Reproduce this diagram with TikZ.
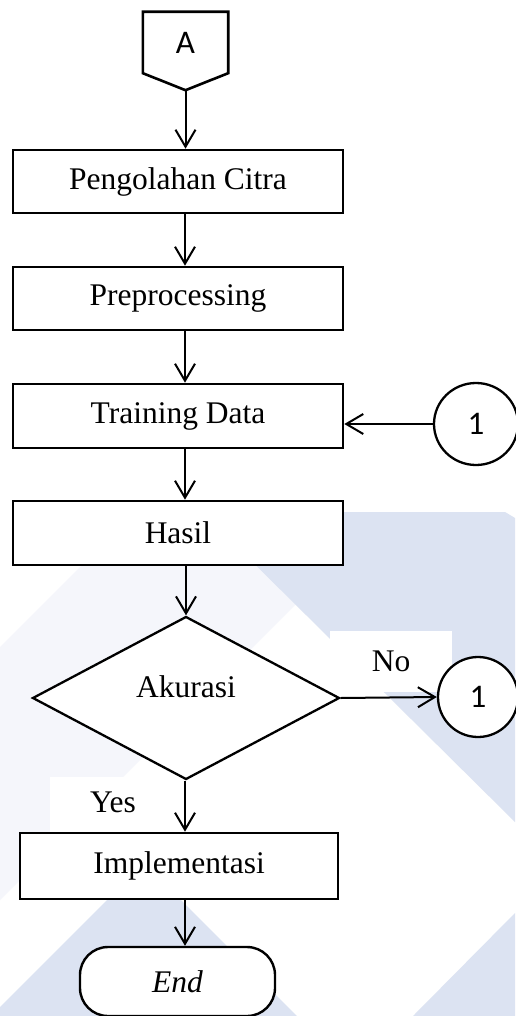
\documentclass[tikz,border=0pt]{standalone}
\usepackage{fontspec}
\setmainfont{Liberation Serif}
\newfontfamily\calfont{Carlito}
\usetikzlibrary{arrows.meta,shapes.geometric,calc}
\definecolor{wm}{RGB}{220,227,242}
\definecolor{wmfaint}{RGB}{245,246,251}
\begin{document}
\begin{tikzpicture}[x=1pt,y=-1pt,
  serif/.style={font=\fontsize{31.5}{36}\selectfont},
  sans/.style={font=\calfont\fontsize{33}{36}\selectfont},
  box/.style={draw,line width=2.6pt,fill=white,minimum width=330pt,minimum height=63pt,inner sep=0pt,serif},
  conn/.style={draw,ellipse,line width=2.3pt,fill=white,inner sep=0pt,sans},
  lbl/.style={fill=white,inner sep=0pt,serif},
  arr/.style={line width=2pt,-{Straight Barb[length=17pt,width=20pt,line width=2pt]}}]
% page
\useasboundingbox[fill=white] (0,0) rectangle (515,1016);
% background emblem
\fill[wmfaint] (0,647) -- (82,565) -- (335,565) -- (0,900) -- cycle;
\fill[wm] (202,512) -- (505,512) -- (515,518) -- (515,822) -- cycle;
\fill[wm] (515,913) -- (515,1016) -- (413,1016) -- cycle;
\fill[wm] (0,1007) -- (144,863) -- (297,1016) -- (0,1016) -- cycle;
% branch labels
\node[lbl,minimum width=122pt,minimum height=61pt] (no) at (391,661.5) {No};
\node[lbl,minimum width=126pt,minimum height=56pt,text depth=6pt] (yes) at (113,805) {Yes};
% off-page connector
\node[sans,minimum width=85pt,minimum height=61pt,inner sep=0pt] (A) at (185.5,42.5) {A};
\draw[line width=2.6pt,line join=miter] (A.north west) -- (A.north east) -- (A.south east)
  -- ($(A.south)+(0,17)$) -- (A.south west) -- cycle;
\coordinate (Atip) at ($(A.south)+(0,17)$);
\coordinate (col) at (185,0);
% process steps
\node[box] (pc) at (178,181.5) {Pengolahan Citra};
\node[box] (pre) at (178,298.5) {Preprocessing};
\node[box,minimum height=64pt] (tr) at (178,416) {Training Data};
\node[box,minimum height=64pt] (has) at (178,533) {Hasil};
\node[draw,diamond,line width=2.3pt,fill=white,minimum width=307pt,minimum height=163pt,
  inner sep=0pt,serif,text height=20pt,text depth=22pt] (dia) at (186,698) {Akurasi};
\node[box,minimum width=318pt,minimum height=66pt] (imp) at (179,866) {Implementasi};
\node[draw,line width=2.4pt,fill=white,rounded corners=28pt,minimum width=195pt,
  minimum height=69pt,inner sep=0pt,serif] (end) at (177.5,981.5) {\itshape End};
% connectors
\node[conn,minimum width=84pt,minimum height=82pt] (c1) at (476,424) {1};
\node[conn,minimum width=80pt,minimum height=80pt] (c2) at (478,697) {1};
% flow
\draw[arr] (Atip) -- (Atip |- pc.north);
\draw[arr] (pc.south -| col) -- (pre.north -| col);
\draw[arr] (pre.south -| col) -- (tr.north -| col);
\draw[arr] (tr.south -| col) -- (has.north -| col);
\draw[arr] (has.south -| dia.north) -- (dia.north);
\draw[arr] (dia.south -| col) -- (imp.north -| col);
\draw[arr] (imp.south -| col) -- (end.north -| col);
\draw[arr] (c1.west) -- (c1.west -| tr.east);
\draw[arr] (dia.east) -- (c2.west);
\end{tikzpicture}
\end{document}
